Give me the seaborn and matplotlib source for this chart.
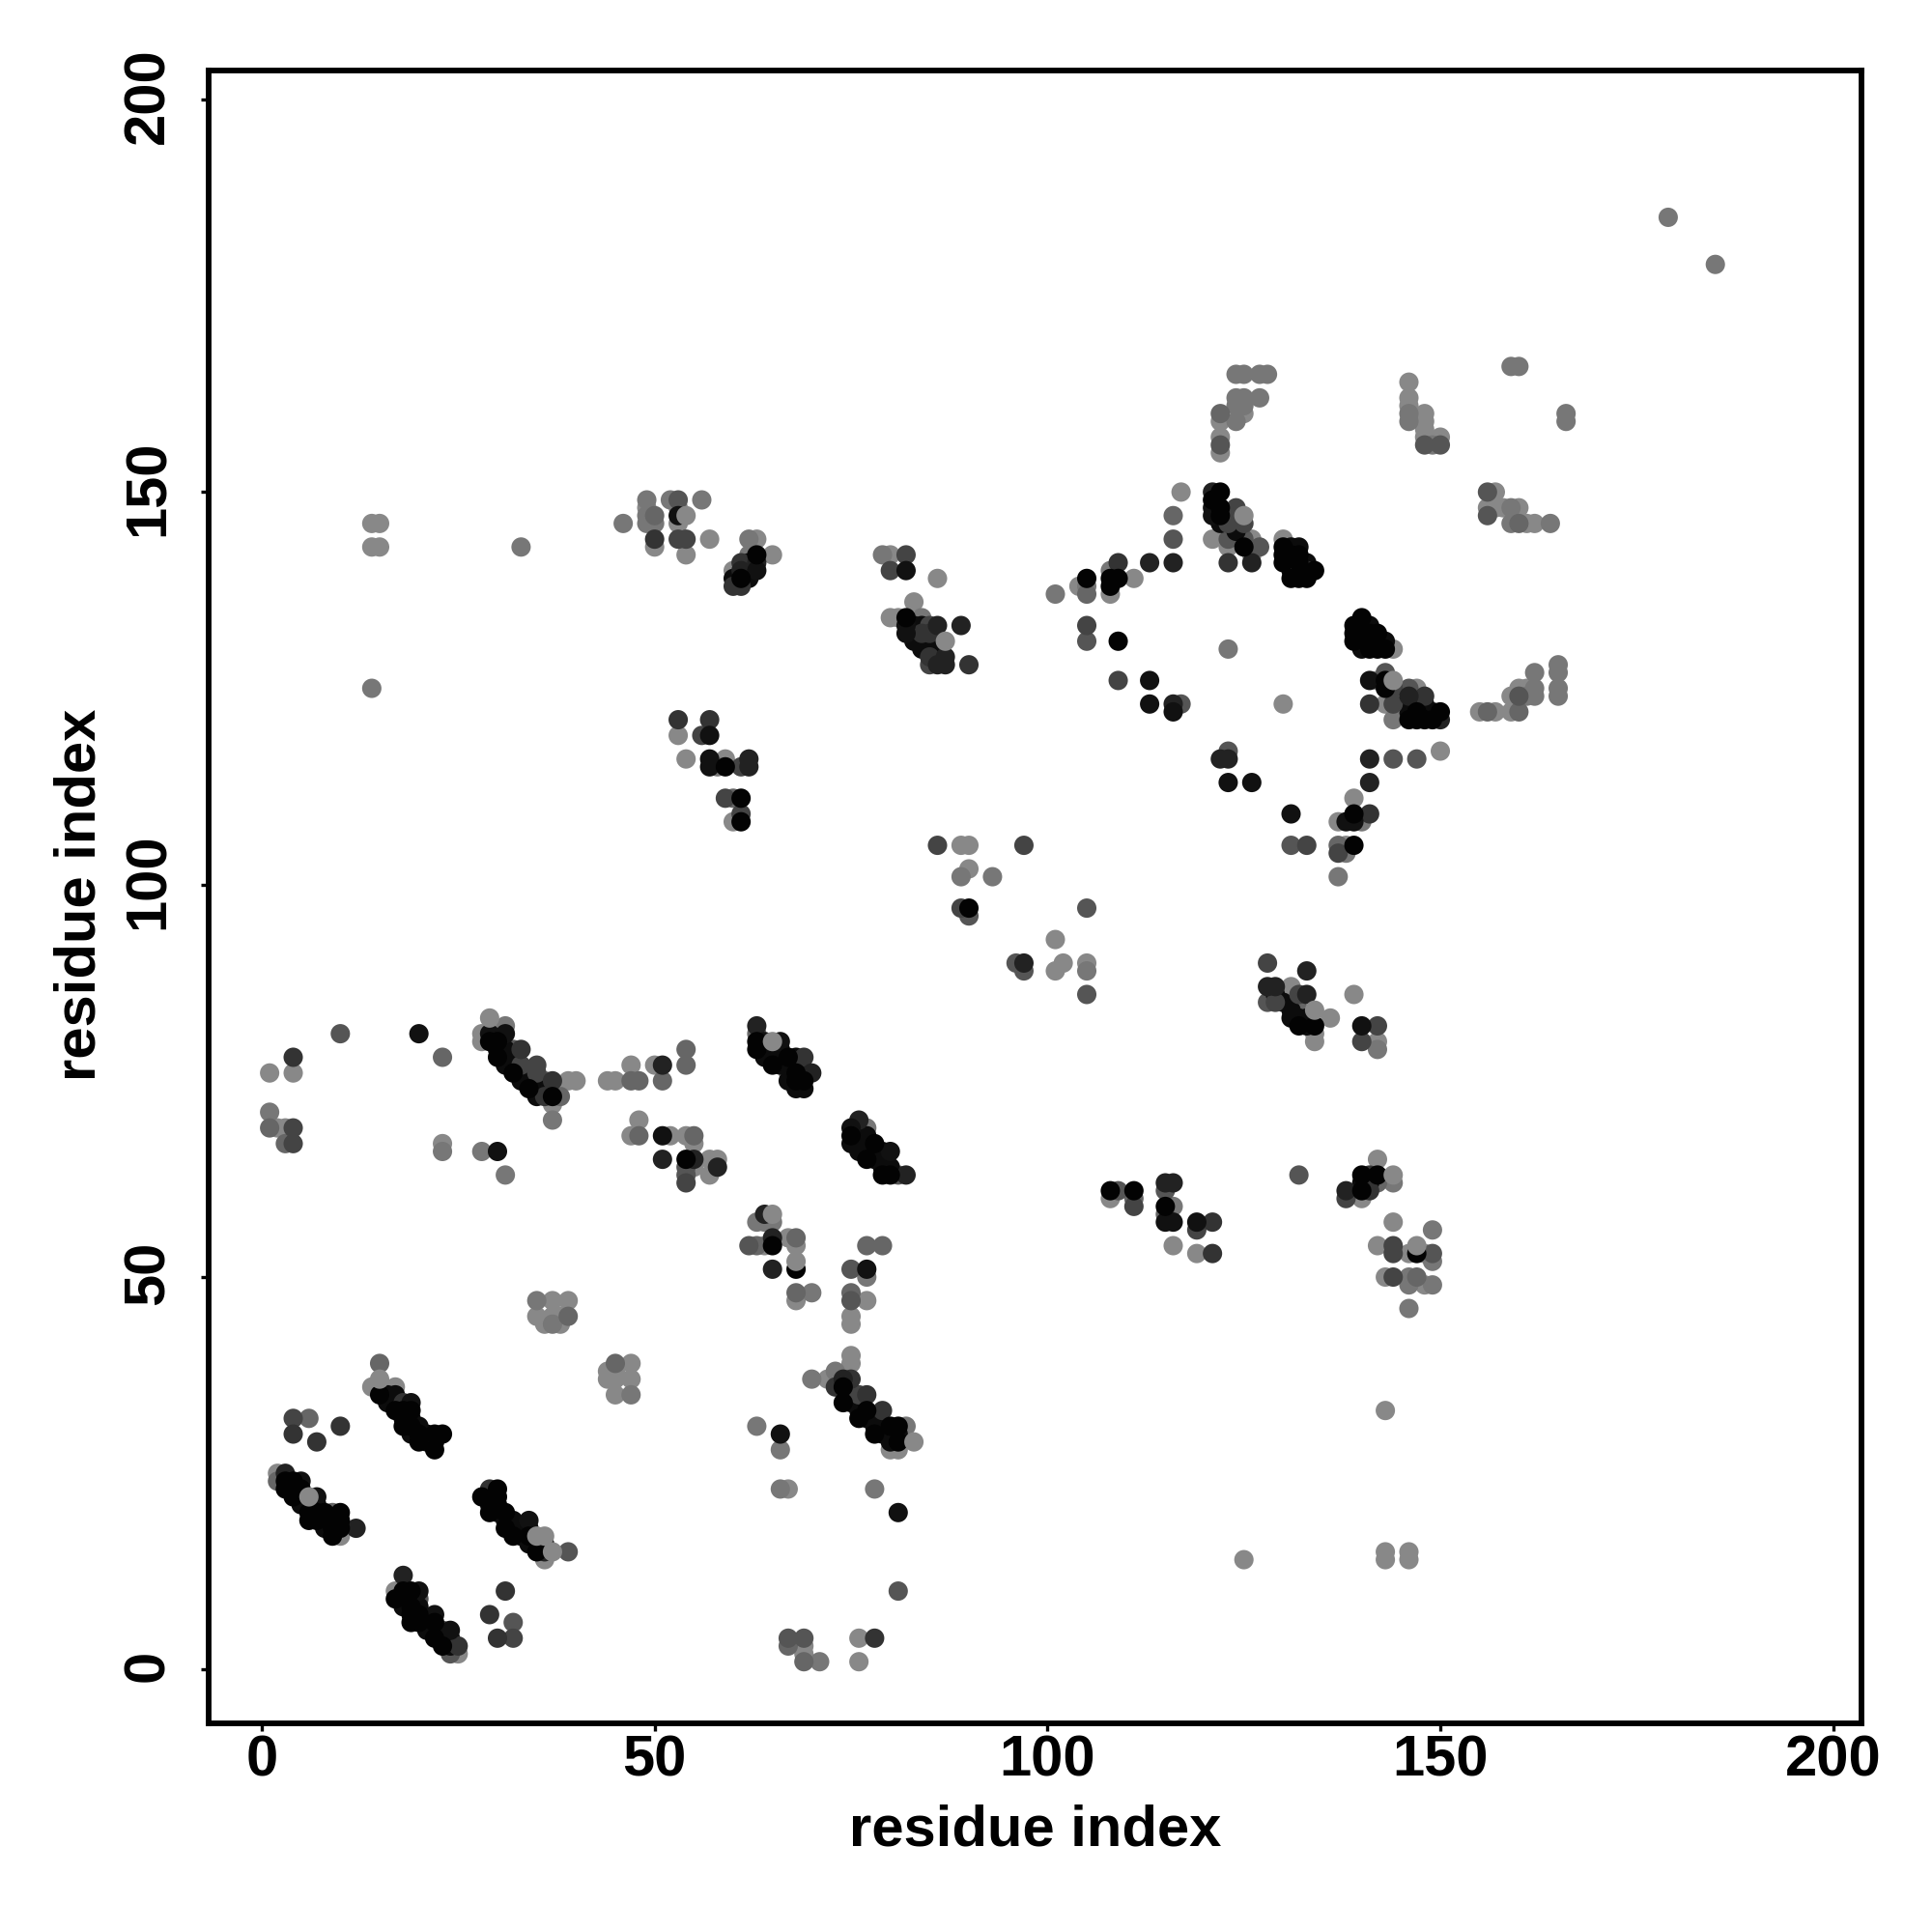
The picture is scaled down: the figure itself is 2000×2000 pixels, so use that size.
# Contact map, residue index vs residue index
import pandas as pd
import seaborn as sns
import matplotlib
matplotlib.use("Agg")
import matplotlib.pyplot as plt
from matplotlib.transforms import ScaledTranslation

# contacts (i, j) grouped by grey shade
contacts_88 = [(37,47),(39,47),(35,45),(37,45),(36,44),(38,44),(38,45),(47,39),(44,38),(44,37),(45,37),(47,37),(45,35),(45,38),
    (14,36),(17,36),(2,25),(10,17),(17,10),(21,6),(25,2),(36,14),(69,3),(69,2),(76,4),(76,1),(67,23),(72,37),(75,40),(75,39),
    (75,44),(75,45),(77,47),(68,47),(68,54),(67,55),(64,54),(80,28),(81,28),(1,76),(4,76),(2,69),(3,69),(23,67),(28,81),(28,80),
    (37,72),(39,75),(40,75),(44,75),(45,75),(47,77),(50,77),(48,70),(47,68),(52,68),(54,68),(55,67),(57,65),(57,63),(58,65),(55,64),
    (67,76),(108,60),(116,54),(119,53),(131,87),(130,86),(136,83),(134,81),(134,80),(139,86),(142,80),(142,65),(144,57),(142,54),
    (146,53),(148,53),(143,50),(148,49),(140,60),(143,33),(125,14),(143,15),(143,14),(146,15),(146,14),(14,146),(15,146),(14,143),(15,143),
    (49,148),(50,143),(53,148),(53,146),(54,142),(57,144),(63,144),(65,142),(60,140),(80,142),(86,139),(83,136),(80,134),(81,134),
    (53,119),(54,116),(59,116),(60,108),(89,105),(90,105),(90,102),(101,93),(101,89),(102,90),(105,90),(125,160),(122,159),(122,157),(122,155),
    (146,164),(146,162),(146,161),(148,160),(148,159),(148,158),(148,157),(150,157),(117,150),(108,137),(111,139),(104,138),(130,123),(150,117),
    (121,144),(124,144),(123,143),(126,144),(126,142),(130,144),(139,111),(137,108),(138,105),(144,130),(142,126),(143,123),(144,124),(147,125),
    (155,122),(157,122),(159,122),(159,124),(160,125),(161,125),(157,150),(156,148),(158,148),(160,148),(161,146),(162,146),(157,148)]
contacts_77 = [(35,47),(37,44),(47,35),(70,48),(71,1),(63,57),(64,57),(65,57),(70,37),(73,38),(77,50),(63,31),(66,28),(78,23),(66,23),(82,31),
    (1,71),(31,82),(23,66),(28,66),(31,63),(37,70),(76,67),(77,69),(116,59),(144,62),(142,79),(149,56),(149,52),(146,50),(146,49),(149,49),(146,46),
    (14,125),(179,185),(185,179),(33,143),(46,146),(49,149),(49,146),(50,146),(52,149),(56,149),(62,144),(62,142),(79,142),(84,134),(83,132),(86,130),
    (58,115),(89,101),(93,101),(105,89),(101,137),(124,165),(125,165),(127,165),(128,165),(124,162),(125,162),(127,162),(124,161),(125,161),(124,159),
    (146,160),(146,159),(149,156),(108,140),(105,138),(123,130),(140,108),(138,104),(137,101),(144,121),(161,124),(162,125),(162,124),(162,127),
    (165,128),(165,127),(165,125),(165,124),(159,166),(160,166),(166,160),(166,159),(159,148),(159,146),(164,146),(49,147)]
contacts_66 = [(39,45),(45,39),(67,3),(69,1),(68,48),(68,55),(63,54),(75,48),(77,54),(79,54),(1,69),(3,67),(23,78),(36,75),(38,73),(47,75),(48,75),
    (51,75),(54,79),(54,77),(48,68),(55,68),(111,60),(115,58),(132,84),(142,62),(147,50),(50,147),(122,160),(105,137),(116,147),(156,122),(160,122),
    (137,105),(148,122),(160,146),(15,39),(6,32),(2,24),(9,20),(63,81),(60,111)]
contacts_55 = [(23,5),(24,2),(20,9),(32,6),(39,15),(67,4),(69,4),(62,54),(75,47),(75,51),(81,10),(10,81),(54,64),(54,63),(109,61),(115,61),(117,123),
    (132,63),(128,85),(149,53),(53,149),(116,144),(122,156),(105,131),(97,89),(105,97),(96,90),(90,96),(105,86),(148,156),(150,156),(127,143),(123,117),
    (144,116),(147,116),(125,144),(123,144),(143,127),(146,125),(131,105),(156,150),(156,147),(160,124),(32,79),(81,63),(140,132)]
# points hidden inside the dense runs, the run edges are what can be read
contacts_band = [(75,35),(75,34),(76,34),(76,33),(77,32),(78,32),(78,31),(79,31),(79,30),(80,30),(80,29),(81,30),
    (18,32),(19,32),(19,30),(20,31),(21,30),(21,29),(22,29),(16,35),(16,34),(17,34),(17,35),
    (29,22),(29,21),(30,20),(31,19),(32,19),(32,18),(33,18),(33,17),(34,18),(34,16),(35,16),(36,16),
    (30,79),(31,79),(31,78),(31,77),(32,78),(32,77),(33,76),(33,75),(34,76),(34,75),(35,75),(35,74),(36,74),(35,73),
    (64,79),(64,78),(65,79),(65,78),(66,79),(66,78),(66,77),(67,77),(67,75),(68,74),(69,74),(68,77),(68,78),
    (75,67),(76,68),(76,66),(77,68),(77,67),(77,66),(78,66),(78,65),(79,66),(79,65),(79,64),(80,64),
    (18,9),(18,8),(19,9),(21,5),(22,5),(23,4),(24,4),(24,3),(20,8),
    (5,22),(5,21),(6,21),(7,21),(8,19),(8,18),(9,19),(4,23),
    (146,122),(147,123),(149,122),(148,123),(146,123),
    (140,133),(140,131),(141,131),(142,131),(143,131),(140,130),(141,133),
    (122,146),(123,147),(124,146),(124,145),
    (131,141),(131,140),(133,141),(131,143),(132,143),
    (83,133),(84,133),(83,131),(84,130),(85,130),(85,131),(86,131),(86,129),
    (129,86),(130,85),(131,84),(131,83),(132,83),(133,83),(133,82),
    (62,141),(62,140),(62,139),(60,139),(140,62),(141,62)]
contacts_44 = [(32,4),(4,69),(4,67),(33,77),(35,77),(35,76),(54,62),(111,59),(119,56),(128,90),(129,85),(132,86),(142,82),(140,80),(138,60),(144,54),
    (144,53),(144,50),(53,144),(54,144),(82,142),(80,140),(85,133),(85,128),(61,109),(59,111),(56,119),(86,105),(97,105),(105,133),(109,126),(124,148),
    (125,146),(123,146),(132,140),(144,125),(144,123),(133,105),(137,104),(89,97),(4,32),(61,115),(76,35)]
contacts_33 = [(4,30),(7,29),(10,31),(31,10),(29,7),(30,4),(25,3),(18,34),(29,23),(4,78),(33,79),(37,75),(36,73),(75,37),(73,36),(79,33),(77,35),(78,4),
    (69,78),(121,57),(121,53),(141,63),(141,61),(50,144),(61,141),(60,138),(61,138),(84,132),(85,132),(85,129),(90,128),(53,121),(57,121),(109,141),
    (123,141),(133,140),(141,123),(141,109),(148,124)]
contacts_22 = [(12,18),(18,12),(3,25),(36,15),(65,51),(65,55),(64,58),(74,37),(51,77),(51,65),(55,65),(58,64),(63,82),(70,76),(82,63),(76,70),(115,62),
    (116,62),(138,61),(133,89),(128,87),(129,87),(133,86),(63,141),(61,140),(86,133),(89,133),(86,128),(87,128),(87,129),(62,116),(62,115),(97,90),
    (113,141),(116,141),(116,123),(121,150),(126,141),(122,116),(123,116),(141,116),(141,113),(146,124),(150,121)]
contacts_11 = [(19,34),(5,24),(7,22),(20,10),(22,7),(24,5),(34,19),(81,20),(66,30),(77,51),(20,81),(29,81),(31,81),(30,66),(51,68),(80,66),(66,80),(64,80),
    (75,69),(119,57),(116,57),(115,57),(140,82),(53,147),(63,140),(82,140),(82,133),(82,132),(57,119),(57,116),(57,115),(113,126),(113,123),(116,122),
    (121,148),(121,147),(123,113),(126,113),(141,126),(139,108),(138,108),(131,109)]
contacts_00 = [(15,35),(17,33),(18,33),(19,33),(18,31),(19,31),(20,30),(20,29),(22,30),(23,30),(22,28),(3,24),(3,23),(4,24),(4,22),(5,23),(6,20),(6,19),
    (7,20),(7,19),(8,20),(10,20),(10,19),(10,18),(9,18),(9,17),(30,23),(28,22),(29,20),(30,22),(30,21),(31,20),(31,18),(32,17),(34,17),(35,15),
    (17,9),(18,10),(19,10),(19,8),(19,7),(19,6),(20,7),(20,6),(22,6),(22,4),(23,3),(65,54),(68,51),(74,36),(74,34),(76,32),(77,33),(78,30),(80,31),(81,31),(81,29),
    (29,80),(30,80),(30,78),(32,76),(34,74),(37,73),(54,65),(63,80),(63,79),(65,77),(67,78),(68,76),(68,75),(69,75),(75,68),(77,65),(78,67),(79,63),(80,63),
    (108,61),(111,61),(115,59),(140,63),(142,63),(140,61),(132,82),(134,82),(147,53),(63,142),(61,139),(82,134),(61,111),(61,108),(59,115),
    (105,139),(109,139),(108,139),(108,138),(109,131),(122,150),(121,149),(122,148),(122,147),(125,143),(130,143),(130,142),(130,141),(131,142),(132,142),(132,141),
    (131,139),(132,139),(133,139),(134,140),(139,109),(139,105),(140,134),(139,133),(139,132),(139,131),(141,132),(142,132),(141,130),(142,130),(143,130),
    (143,126),(143,125),(146,121),(147,121),(148,121),(149,121),(147,122),(150,122),(90,97)]

# lighter points that sit on top of the dark runs
contacts_top_88 = [(6,22),(37,15),(35,17),(36,17),(15,37),(29,83),(65,58),(65,80),(54,147),(125,147),(134,84),(144,63),(147,54),(87,131),(144,126),(68,52),(83,29)]

shades = [("#888888", contacts_88), ("#777777", contacts_77), ("#666666", contacts_66), ("#555555", contacts_55), ("#0c0c0c", contacts_band),
          ("#444444", contacts_44), ("#333333", contacts_33), ("#222222", contacts_22), ("#111111", contacts_11), ("#030303", contacts_00),
          ("#888888", contacts_top_88)]
tick_values = [0, 50, 100, 150, 200]

rows = []
for shade, pairs in shades:
    for i, j in pairs:
        rows.append({"i": i, "j": j, "shade": shade})
df = pd.DataFrame(rows)

sns.set_style("white")
plt.rcParams['font.family'] = ['Liberation Sans', 'DejaVu Sans']
plt.rcParams['font.weight'] = 'bold'
plt.rcParams['text.color'] = 'black'

fig = plt.figure(figsize=(10, 10), dpi=200)
ax = fig.add_axes([216/2000, 1 - 1784/2000, 1711/2000, 1711/2000])

sns.scatterplot(data=df, x="i", y="j", hue="shade", palette={s: s for s, _ in shades},
                s=52, linewidth=0, legend=False, ax=ax)

ax.set_xlim(-6.76, 203.6)
ax.set_ylim(-6.85, 203.7)
ax.set_xticks(tick_values)
ax.set_yticks(tick_values)
ax.tick_params(axis="x", direction="out", length=3, width=1.2, color="black", labelcolor="black", labelsize=21.5, pad=1, bottom=True)
ax.tick_params(axis="y", direction="out", length=3, width=1.2, color="black", labelcolor="black", labelsize=21.5, pad=9.5, left=True)
for lab in ax.get_yticklabels():
    lab.set_rotation(90)
    lab.set_va("center")
    lab.set_transform(lab.get_transform() + ScaledTranslation(0, 4/200, fig.dpi_scale_trans))
for spine in ax.spines.values():
    spine.set_linewidth(2.1)
    spine.set_color("black")

ax.set_xlabel("residue index", fontsize=21.5, fontweight="bold", color="black")
ax.set_ylabel("residue index", fontsize=21.5, fontweight="bold", color="black")
ax.xaxis.set_label_coords(0.5, -0.049)
ax.yaxis.set_label_coords(-0.0616, 0.501)

fig.savefig("out.png", dpi=200, facecolor="white")
